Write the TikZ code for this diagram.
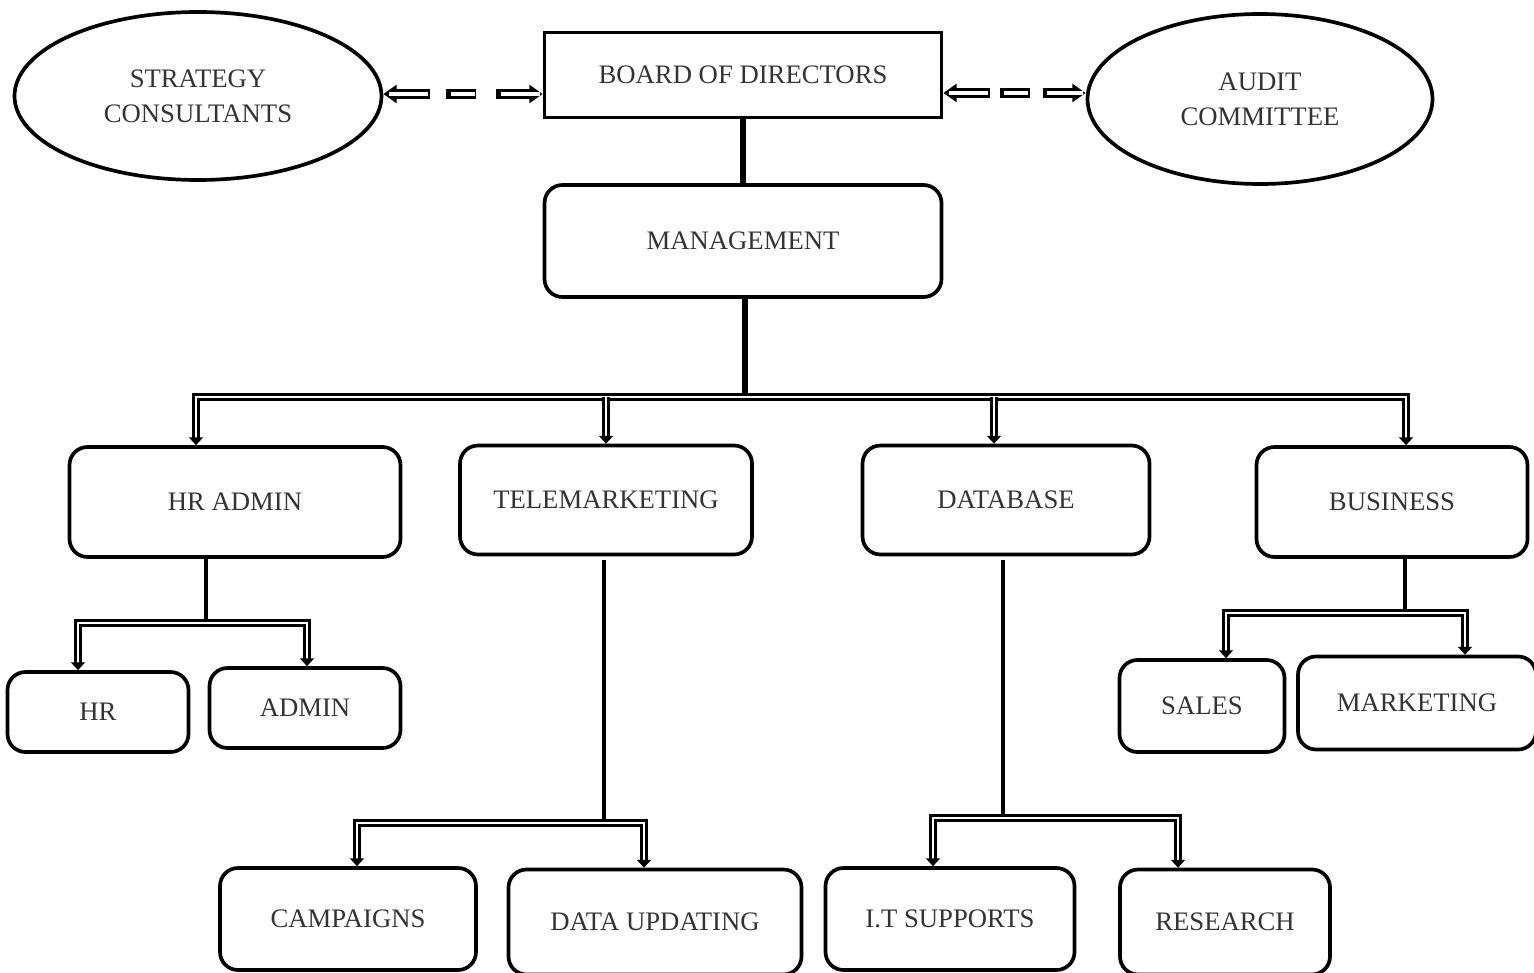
\documentclass[tikz,border=0pt]{standalone}
\usepackage{fontspec}
\setmainfont{Liberation Serif}
\usetikzlibrary{shapes.geometric,arrows.meta,calc}
\begin{document}
\begin{tikzpicture}[x=0.02cm,y=-0.02cm,
  txt/.style={font=\fontsize{15.2}{20}\selectfont, text=black!80, align=center, inner sep=0pt},
  sz/.style 2 args={minimum width=#1*0.02cm, minimum height=#2*0.02cm},
  box/.style={txt, draw, line width=2.1pt, rounded corners=0.36cm},
  sq/.style={txt, draw, line width=2.1pt},
  ell/.style={txt, draw, ellipse, line width=2.1pt},
  trunk/.style={line width=2.6pt},
  bigtrunk/.style={line width=3.4pt},
  dbl/.style={double=white, double distance=1.3pt, line width=1.8pt},
  tipb/.style={{Triangle[length=4.5pt,width=8pt]}-{Triangle[length=4.5pt,width=8pt]}},
  tipe/.style={-{Triangle[length=4.5pt,width=8pt]}},
  dblack/.style={line width=6pt, {Triangle[length=7.5pt,width=10pt]}-{Triangle[length=7.5pt,width=10pt]}},
  dwhite/.style={white, line width=2.4pt},
  dpatL/.style={dash pattern=on 19.3pt off 9.6pt on 17pt off 11.3pt on 40pt},
  wpatL/.style={dash pattern=on 0pt off 3.4pt on 22.1pt off 13pt on 13.6pt off 14.7pt on 22.1pt off 20pt},
  dpatR/.style={dash pattern=on 19.3pt off 5.7pt on 17pt off 7.4pt on 40pt},
  wpatR/.style={dash pattern=on 0pt off 3.4pt on 22.1pt off 9.1pt on 13.6pt off 10.8pt on 20.4pt off 20pt}
]
\useasboundingbox (0,0) rectangle (1534,973);

% top row
\node[ell, sz={367}{168}] (sc) at (198,96) {STRATEGY\\CONSULTANTS};
\node[sq, sz={397}{85}] (bod) at (743,75) {BOARD OF DIRECTORS};
\node[ell, sz={345}{170}] (ac) at (1260,99) {AUDIT\\COMMITTEE};
\node[box, sz={397}{112}] (mgmt) at (743,241) {MANAGEMENT};

% second row
\node[box, sz={331}{110}] (hra) at (235,502) {HR ADMIN};
\node[box, sz={292}{109}] (tele) at (606,500) {TELEMARKETING};
\node[box, sz={287}{109}] (db) at (1006,500) {DATABASE};
\node[box, sz={271}{110}] (biz) at (1392,502) {BUSINESS};

% third row
\node[box, sz={181}{80}] (hr) at (98,712) {HR};
\node[box, sz={191}{80}] (adm) at (305,708) {ADMIN};
\node[box, sz={165}{92}] (sales) at (1202,706) {SALES};
\node[box, sz={238}{93}] (mkt) at (1417,703) {MARKETING};

% bottom row
\node[box, sz={256}{102}] (camp) at (348,919) {CAMPAIGNS};
\node[box, sz={293}{105}] (dup) at (655,922) {DATA UPDATING};
\node[box, sz={249}{102}] (its) at (950,919) {I.T SUPPORTS};
\node[box, sz={210}{105}] (res) at (1225,922) {RESEARCH};

% dashed links (outlined dashes)
\draw[dblack, dpatL] (sc.east |- 0,94) -- (bod.west |- 0,94);
\draw[dwhite, wpatL] (sc.east |- 0,94) -- (bod.west |- 0,94);
\draw[dblack, dpatR] (bod.east |- 0,93) -- (ac.west |- 0,93);
\draw[dwhite, wpatR] (bod.east |- 0,93) -- (ac.west |- 0,93);

% board -> management
\draw[trunk, line width=3pt] (bod.south) -- (mgmt.north);

% management bus
\coordinate (m1) at (745,397);
\draw[bigtrunk] (745,0 |- mgmt.south) -- (m1);
\draw[dbl, tipb] (196,0 |- hra.north) -- (196,397) -- (1406,397) -- (1406,0 |- biz.north);
\draw[dbl, tipe] (606,397) -- (606,0 |- tele.north);
\draw[dbl, tipe] (994,397) -- (994,0 |- db.north);

% HR ADMIN
\draw[trunk] (206,0 |- hra.south) -- (206,623);
\draw[dbl, tipb] (78,0 |- hr.north) -- (78,623) -- (307,623) -- (307,0 |- adm.north);

% BUSINESS
\draw[trunk] (1405,0 |- biz.south) -- (1405,613);
\draw[dbl, tipb] (1226,0 |- sales.north) -- (1226,613) -- (1465,613) -- (1465,0 |- mkt.north);

% TELEMARKETING
\draw[trunk] (604,560) -- (604,823);
\draw[dbl, tipb] (357,0 |- camp.north) -- (357,823) -- (644,823) -- (644,0 |- dup.north);

% DATABASE
\draw[trunk] (1003,560) -- (1003,818);
\draw[dbl, tipb] (933,0 |- its.north) -- (933,818) -- (1178,818) -- (1178,0 |- res.north);
\end{tikzpicture}
\end{document}
